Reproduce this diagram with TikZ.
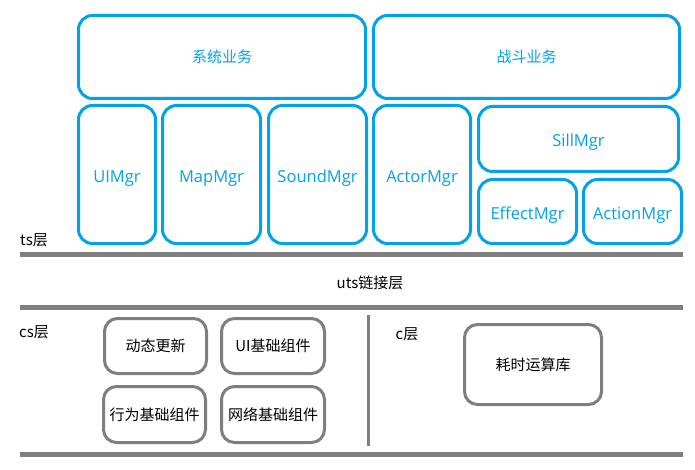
\documentclass[tikz,border=0pt]{standalone}
\usepackage{fontspec}
\setmainfont{Noto Sans CJK SC}
\newfontfamily\latinf{Open Sans}
\definecolor{pblue}{RGB}{0,162,232}
\definecolor{pgray}{RGB}{127,127,127}
\tikzset{
  bluebox/.style={draw=pblue, line width=3pt, rounded corners=14pt, text=pblue, font=\fontsize{15}{18}\selectfont, inner sep=0pt},
  mgrbox/.style={bluebox},
  mgrtext/.style={text=pblue, font=\latinf\fontsize{16.5}{20}\selectfont, inner sep=0pt, anchor=mid, yshift=-5pt},
  graybox/.style={draw=pgray, line width=3pt, rounded corners=13pt, text=black, font=\fontsize{15}{18}\selectfont, inner sep=0pt},
  lbl/.style={text=black, font=\fontsize{15}{18}\selectfont, inner sep=0pt},
  sepline/.style={draw=pgray, line width=5pt},
  vline/.style={draw=pgray, line width=3pt}
}
\begin{document}
\begin{tikzpicture}[x=1pt, y=-1pt]
\useasboundingbox[fill=white] (0,0) rectangle (695,470);
% top blue boxes
\node[bluebox, minimum width=287pt, minimum height=83pt] (sys) at (222,57) {系统业务};
\node[bluebox, minimum width=306pt, minimum height=83pt] (battle) at (526.5,57) {战斗业务};
\node[mgrbox, minimum width=77pt, minimum height=138pt] (ui) at (117,174.5) {};
\node[mgrbox, minimum width=98pt, minimum height=138pt] (map) at (211.5,174.5) {};
\node[mgrbox, minimum width=98pt, minimum height=138pt] (sound) at (317.5,174.5) {};
\node[mgrbox, minimum width=97pt, minimum height=138pt] (actor) at (422,174.5) {};
\node[mgrbox, minimum width=200pt, minimum height=65pt] (sill) at (578.5,139) {};
\node[mgrbox, minimum width=98pt, minimum height=64pt] (effect) at (527.5,211.5) {};
\node[mgrbox, minimum width=98pt, minimum height=64pt] (action) at (632.5,211.5) {};
\node[mgrtext] (tui) at (ui.center) {UIMgr};
\node[mgrtext] (tmap) at (map.center) {MapMgr};
\node[mgrtext] (tsound) at (sound.center) {SoundMgr};
\node[mgrtext] (tactor) at (actor.center) {ActorMgr};
\node[mgrtext] (tsill) at (sill.center) {SillMgr};
\node[mgrtext] (teffect) at (effect.center) {EffectMgr};
\node[mgrtext] (taction) at (action.center) {ActionMgr};
% layer labels
\node[lbl] (ts) at (34,240) {ts层};
\node[lbl] (uts) at (370,283) {uts链接层};
\node[lbl] (cs) at (34,332) {cs层};
\node[lbl] (c) at (407,334) {c层};
% separator lines
\coordinate (l1a) at (20,254.5); \coordinate (l1b) at (683,254.5);
\coordinate (l2a) at (20,307); \coordinate (l2b) at (683,307);
\coordinate (l3a) at (20,454); \coordinate (l3b) at (683,454);
\coordinate (va) at (368,315); \coordinate (vb) at (368,446);
\draw[sepline] (l1a) -- (l1b);
\draw[sepline] (l2a) -- (l2b);
\draw[sepline] (l3a) -- (l3b);
\draw[vline] (va) -- (vb);
% gray boxes
\node[graybox, minimum width=102pt, minimum height=55pt] (dyn) at (155.5,346) {动态更新};
\node[graybox, minimum width=103pt, minimum height=55pt] (uib) at (273,346) {UI基础组件};
\node[graybox, minimum width=102pt, minimum height=56pt] (beh) at (154.5,414.5) {行为基础组件};
\node[graybox, minimum width=103pt, minimum height=56pt] (net) at (273,414.5) {网络基础组件};
\node[graybox, minimum width=137pt, minimum height=80pt] (calc) at (533,364.5) {耗时运算库};
\end{tikzpicture}
\end{document}
